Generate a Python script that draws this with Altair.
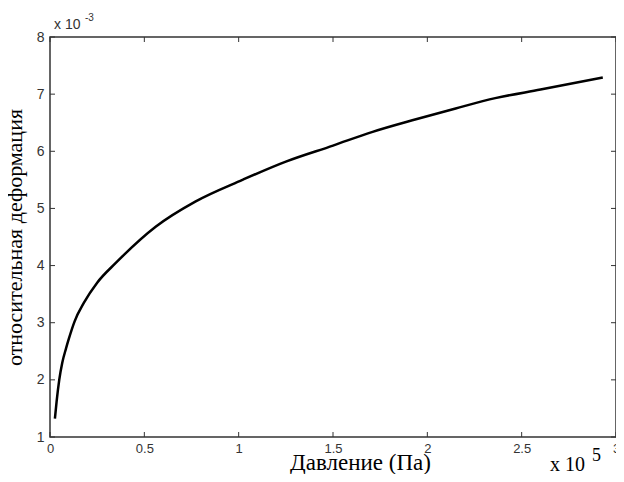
import altair as alt
import pandas as pd

# Data (pressure in units of 1e5 Pa, strain in units of 1e-3)
pressure = [0.026, 0.035, 0.049, 0.065, 0.085, 0.10, 0.13, 0.18, 0.25, 0.35,
            0.56, 0.77, 1.02, 1.25, 1.50, 1.71, 1.94, 2.15, 2.36, 2.60, 2.93]
strain = [1.32, 1.62, 2.00, 2.30, 2.55, 2.72, 3.02, 3.35, 3.70, 4.05,
          4.68, 5.12, 5.50, 5.82, 6.10, 6.34, 6.56, 6.75, 6.93, 7.08, 7.29]

x_ticks = [0, 0.5, 1, 1.5, 2, 2.5, 3]
y_ticks = [1, 2, 3, 4, 5, 6, 7, 8]

x_title = "Давление (Па)"
y_title = "относительная деформация"
y_mult = ["x 10", "-3"]
x_mult = ["x 10", "5"]

df = pd.DataFrame({"p": pressure, "s": strain})
xt = pd.DataFrame({"p": x_ticks})
yt = pd.DataFrame({"s": y_ticks})

W, H = 566, 400
xscale = alt.Scale(domain=[0, 3], nice=False, zero=False)
yscale = alt.Scale(domain=[1, 8], nice=False, zero=False)
TICKC = "#333333"

line = alt.Chart(df).mark_line(color="black", strokeWidth=2.5, interpolate="monotone").encode(
    x=alt.X("p:Q", scale=xscale, axis=alt.Axis(
        values=x_ticks, format="~g", title=x_title, domain=False, ticks=False, tickSize=0,
        grid=False, labelFont="Liberation Sans", labelFontSize=13, labelColor=TICKC,
        labelPadding=5, labelFlush=False, titleFont="Liberation Serif", titleFontSize=23,
        titleFontWeight="normal", titleColor="black", titleX=310, titleY=32,
        titleBaseline="alphabetic", titleAlign="center")),
    y=alt.Y("s:Q", scale=yscale, axis=alt.Axis(
        values=y_ticks, format="~g", title=y_title, domain=False, ticks=False, tickSize=0,
        grid=False, labelFont="Liberation Sans", labelFontSize=14, labelColor=TICKC,
        labelPadding=6, labelFlush=False, titleFont="Liberation Serif", titleFontSize=22,
        titleFontWeight="normal", titleColor="black", titleX=-29, titleY=200,
        titleAngle=270, titleBaseline="alphabetic", titleAlign="center")),
)

def xtick(y0, y1):
    return alt.Chart(xt).mark_rule(color=TICKC, strokeWidth=1).encode(
        x=alt.X("p:Q", scale=xscale), y=alt.value(y0), y2=alt.value(y1))

def ytick(x0, x1):
    return alt.Chart(yt).mark_rule(color=TICKC, strokeWidth=1).encode(
        y=alt.Y("s:Q", scale=yscale), x=alt.value(x0), x2=alt.value(x1))

ticks = [xtick(H, H - 5), xtick(0, 5), ytick(0, 5), ytick(W, W - 5)]

def label(txt, x, y, font, size, color="black"):
    return alt.Chart(pd.DataFrame({"t": [txt]})).mark_text(
        align="left", baseline="alphabetic", font=font, fontSize=size, color=color
    ).encode(text="t:N", x=alt.value(x), y=alt.value(y))

texts = [
    label(y_mult[0], 4, -8, "Liberation Sans", 14, TICKC),
    label(y_mult[1], 35, -16, "Liberation Sans", 10, TICKC),
    label(x_mult[0], 500, H + 34, "Liberation Serif", 20),
    label(x_mult[1], 542, H + 24, "Liberation Serif", 18),
]

chart = alt.layer(line, *ticks, *texts).properties(
    width=W, height=H,
    padding={"left": 42, "top": 29, "right": 0, "bottom": 37},
    autosize=alt.AutoSizeParams(type="none"),
    background="white",
).configure_view(stroke="#333333", strokeWidth=1.5)

chart.save("out.html", embed_options={"renderer": "svg", "actions": False})
